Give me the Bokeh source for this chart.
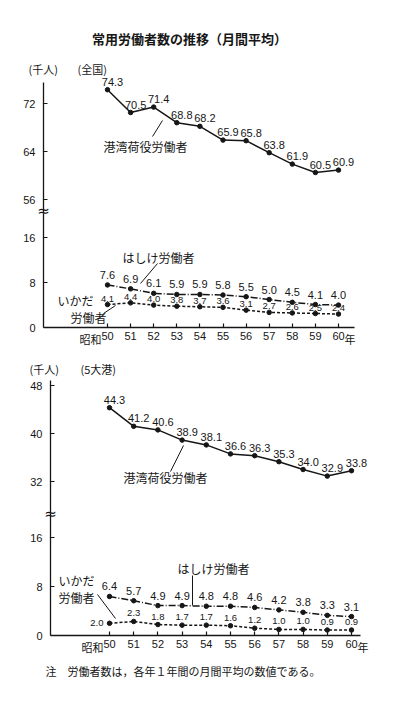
from bokeh.plotting import figure
from bokeh.layouts import column
from bokeh.models import Label, LabelSet, Range1d, FixedTicker, ColumnDataSource, LinearAxis
from bokeh.core.properties import value
from bokeh.embed import file_html
from bokeh.resources import INLINE

# ---------------- data ----------------
years = [50, 51, 52, 53, 54, 55, 56, 57, 58, 59, 60]
year_labels = ["50", "51", "52", "53", "54", "55", "56", "57", "58", "59", "60"]

nat_port = [74.3, 70.5, 71.4, 68.8, 68.2, 65.9, 65.8, 63.8, 61.9, 60.5, 60.9]
nat_hashike = [7.6, 6.9, 6.1, 5.9, 5.9, 5.8, 5.5, 5.0, 4.5, 4.1, 4.0]
nat_ikada = [4.1, 4.4, 4.0, 3.8, 3.7, 3.6, 3.1, 2.7, 2.6, 2.5, 2.4]

big5_port = [44.3, 41.2, 40.6, 38.9, 38.1, 36.6, 36.3, 35.3, 34.0, 32.9, 33.8]
big5_hashike = [6.4, 5.7, 4.9, 4.9, 4.8, 4.8, 4.6, 4.2, 3.8, 3.3, 3.1]
big5_ikada = [2.0, 2.3, 1.8, 1.7, 1.7, 1.6, 1.2, 1.0, 1.0, 0.9, 0.9]

nat_upper_ticks = [56, 64, 72]
big5_upper_ticks = [32, 40, 48]
lower_ticks = [0, 8, 16]

title_text = "常用労働者数の推移（月間平均）"
unit_text = "(千人)"
scope_nat = "(全国)"
scope_big5 = "(5大港)"
name_port = "港湾荷役労働者"
name_hashike = "はしけ労働者"
name_ikada1 = "いかだ"
name_ikada2 = "労働者"
era_text = "昭和"
year_suffix = "年"
note_text = "注　労働者数は，各年１年間の月間平均の数値である。"

# ---------------- style ----------------
JP = "Noto Sans CJK JP"
NUM = "Liberation Sans"
INK = "#161616"
W = 383
PAGE_L, PAGE_R = 0, W


def style_axis(ax):
    ax.axis_line_color = INK
    ax.axis_line_width = 1.3
    ax.major_tick_in = 4
    ax.major_tick_out = 0
    ax.major_tick_line_color = INK
    ax.major_tick_line_width = 1.2
    ax.minor_tick_line_color = None
    ax.major_label_text_font = NUM
    ax.major_label_text_font_size = "11px"
    ax.major_label_text_color = INK


class Chart:
    """One broken-axis chart: upper panel (big series) and lower panel (small series)."""

    def __init__(self, top, bottom, axis_x, axis_right, x_ref_px, kx,
                 up_ref_val, up_ref_px, up_ky, up_top_px,
                 lo_ref_px, lo_ky, break_px, up_ticks):
        self.top, self.bottom = top, bottom
        self.x_ref_px, self.kx = x_ref_px, kx
        self.lo_ref_px, self.lo_ky = lo_ref_px, lo_ky
        xr = Range1d(self.dx(PAGE_L), self.dx(PAGE_R))
        lo = Range1d(self.dy(bottom), self.dy(top))
        up_v = lambda py: up_ref_val + (up_ref_px - py) / up_ky
        up = Range1d(up_v(bottom), up_v(top))
        p = figure(width=W, height=bottom - top, x_range=xr, y_range=lo,
                   extra_y_ranges={"upper": up},
                   output_backend="svg", toolbar_location=None, title=None,
                   x_axis_location=None, y_axis_location=None, min_border=0,
                   min_border_left=0, min_border_right=0, min_border_top=0, min_border_bottom=0)
        p.grid.visible = False
        p.outline_line_color = None
        p.background_fill_color = "white"
        p.border_fill_color = "white"

        ax_x = self.dx(axis_x)
        ya_up = LinearAxis(y_range_name="upper", fixed_location=ax_x,
                           bounds=(up_v(break_px), up_v(up_top_px)),
                           ticker=FixedTicker(ticks=up_ticks, minor_ticks=[]))
        ya_lo = LinearAxis(fixed_location=ax_x, bounds=(0, self.dy(break_px)),
                           ticker=FixedTicker(ticks=lower_ticks, minor_ticks=[]))
        for ya in (ya_up, ya_lo):
            style_axis(ya)
            ya.major_label_standoff = 8
            p.add_layout(ya, "left")
        xa = LinearAxis(fixed_location=0, bounds=(ax_x, self.dx(axis_right)),
                        ticker=FixedTicker(ticks=years, minor_ticks=[]))
        xa.major_label_overrides = {y: t for y, t in zip(years, year_labels)}
        style_axis(xa)
        xa.major_label_standoff = 4
        p.add_layout(xa, "below")
        self.p = p

    # page pixel -> data (lower panel coordinates)
    def dx(self, px):
        return 50 + (px - self.x_ref_px) / self.kx

    def dy(self, py):
        return (self.lo_ref_px - py) / self.lo_ky

    def text(self, px, py, txt, size="12px", align="left", font=JP, style="normal"):
        self.p.add_layout(Label(x=self.dx(px), y=self.dy(py), text=txt, text_font=font,
                                text_font_size=size, text_align=align, text_baseline="middle",
                                text_color=INK, text_font_style=style))

    def leader(self, x0, y0, x1, y1):
        self.p.segment(x0=[self.dx(x0)], y0=[self.dy(y0)], x1=[self.dx(x1)], y1=[self.dy(y1)],
                       line_color=INK, line_width=1)

    def series(self, xs, ys, dash, rng="default"):
        self.p.line(xs, ys, line_color=INK, line_width=1.5, line_dash=dash, y_range_name=rng)
        self.p.scatter(xs, ys, size=4.5, color=INK, y_range_name=rng)

    def values(self, xs, ys, xoff, yoff, size="11px", rng="default", align="center",
               baseline="alphabetic"):
        src = ColumnDataSource(dict(x=xs, y=ys, t=[f"{v:.1f}" for v in ys]))
        self.p.add_layout(LabelSet(x="x", y="y", text="t", source=src, x_offset=xoff, y_offset=yoff,
                                   y_range_name=rng, text_align=align, text_baseline=baseline,
                                   text_font=value(NUM), text_font_size=size, text_color=INK))


# ---------------- chart 1 : 全国 ----------------
c1 = Chart(top=0, bottom=350, axis_x=43, axis_right=354, x_ref_px=107, kx=23.1,
           up_ref_val=72, up_ref_px=103, up_ky=6.0, up_top_px=82,
           lo_ref_px=327, lo_ky=5.6, break_px=213, up_ticks=nat_upper_ticks)

c1.series(years, nat_port, "solid", rng="upper")
c1.values(years, nat_port, 5, 4, rng="upper")
c1.series(years, nat_hashike, "7 2 1 2")
c1.values(years, nat_hashike, 0, 6)
c1.series(years, nat_ikada, "3 2")
c1.values(years, nat_ikada, 0, 3, size="9.5px")

c1.text(189, 38, title_text, size="13px", align="center", style="bold")
c1.text(28, 68, unit_text, size="11px")
c1.text(77, 68, scope_nat, size="11px")
c1.text(103, 146, name_port)
c1.leader(152, 136, 162, 120)
c1.text(43, 210, "≈", size="15px", align="center", font="DejaVu Sans")
c1.text(122, 257, name_hashike)
c1.leader(157, 263, 140, 283)
c1.text(57, 300, name_ikada1)
c1.text(70, 317, name_ikada2)
c1.leader(103, 313, 115, 305)
c1.text(101, 338, era_text, size="11px", align="right")
c1.text(344, 338, year_suffix, size="11px")

# ---------------- chart 2 : 5大港 ----------------
c2 = Chart(top=350, bottom=686, axis_x=50, axis_right=360, x_ref_px=109, kx=24.2,
           up_ref_val=48, up_ref_px=385, up_ky=6.0, up_top_px=380,
           lo_ref_px=635, lo_ky=6.1, break_px=513, up_ticks=big5_upper_ticks)

c2.series(years, big5_port, "solid", rng="upper")
c2.values(years, big5_port, 5, 4, rng="upper")
c2.series(years, big5_hashike, "7 2 1 2")
c2.values(years, big5_hashike, 0, 6)
c2.series(years, big5_ikada, "3 2")
c2.values(years[1:], big5_ikada[1:], 0, 5, size="9.5px")
c2.values(years[:1], big5_ikada[:1], -6, 0, size="9.5px", align="right", baseline="middle")

c2.text(29, 368, unit_text, size="11px")
c2.text(80, 368, scope_big5, size="11px")
c2.text(123, 477, name_port)
c2.leader(170, 471, 183, 445)
c2.text(50, 513, "≈", size="15px", align="center", font="DejaVu Sans")
c2.text(177, 568, name_hashike)
c2.leader(192, 575, 192, 605)
c2.text(58, 580, name_ikada1)
c2.text(58, 597, name_ikada2)
c2.leader(97, 594, 115, 618)
c2.text(103, 646, era_text, size="11px", align="right")
c2.text(357, 646, year_suffix, size="11px")
c2.text(45, 670, note_text, size="11px")

layout = column(c1.p, c2.p, spacing=0)
open("out.html", "w").write(file_html(layout, INLINE))
